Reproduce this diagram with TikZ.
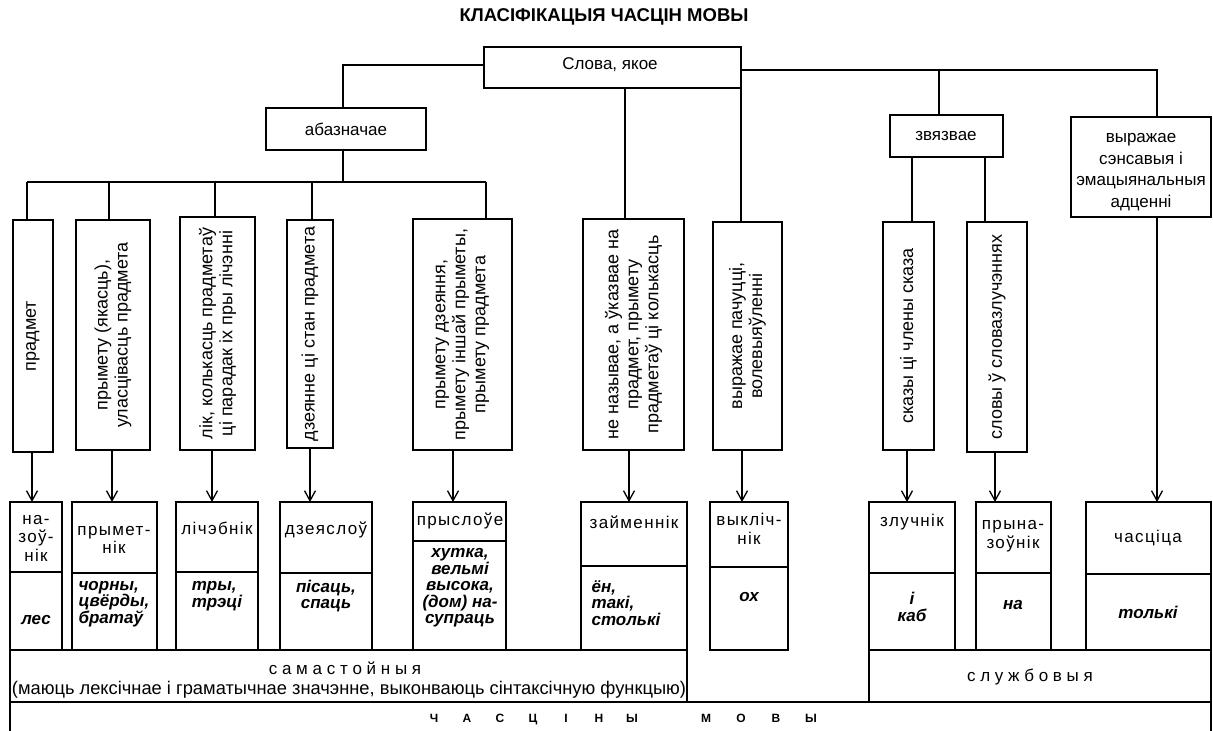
\documentclass[tikz,border=0pt]{standalone}
\usepackage{fontspec}
\setmainfont{Liberation Sans}
\newfontfamily\spacedfont[LetterSpace=8]{Liberation Sans}
\usetikzlibrary{arrows.meta}
\newcommand\boxat[5]{\node[box, anchor=north west, minimum width={#4pt-#2pt}, minimum height={#5pt-#3pt}] (#1) at (#2,#3) {};}
\newcommand\lboxat[5]{\node[lbox, anchor=north west, minimum width={#4pt-#2pt}, minimum height={#5pt-#3pt}] (#1) at (#2,#3) {};}
\begin{document}
\begin{tikzpicture}[x=1pt,y=-1pt,
  box/.style={draw,line width=2.2pt,inner sep=0pt,outer sep=0pt},
  lbox/.style={draw,line width=1.8pt,inner sep=0pt,outer sep=0pt},
  con/.style={line width=1.9pt},
  arr/.style={line width=1.1pt,-{Straight Barb[length=10pt,width=11pt,line width=1.3pt]}},
  tx/.style={inner sep=0pt,align=center,font=\fontsize{17}{19}\selectfont},
  vt/.style={inner sep=0pt,align=center,rotate=90,font=\fontsize{18}{20}\selectfont},
  nm/.style={inner sep=0pt,align=center,font=\spacedfont\fontsize{17}{18.5}\selectfont},
  ex/.style={inner sep=0pt,align=center,font=\bfseries\itshape\fontsize{17}{16.5}\selectfont}]
\useasboundingbox (0,0) rectangle (1213,731);

% title
\node[inner sep=0pt,font=\bfseries\fontsize{18.5}{20}\selectfont] (title) at (604,17) {КЛАСІФІКАЦЫЯ ЧАСЦІН МОВЫ};

% top boxes
\boxat{slova}{484}{47}{741}{88}
\node[tx] (tslova) at (610,65) {Слова, якое};
\boxat{abz}{266}{108}{426}{150}
\node[tx] (tabz) at (346,129) {абазначае};
\boxat{zvz}{890}{115}{1003}{157}
\node[tx] (tzvz) at (946,136) {звязвае};
\boxat{vyr}{1071}{117}{1211}{217}
\node[tx,font=\fontsize{17}{21.5}\selectfont] (tvyr) at (1141,172) {выражае\\сэнсавыя і\\эмацыянальныя\\адценні};

% vertical boxes
\boxat{v1}{13}{220}{53}{452}
\boxat{v2}{76}{220}{150}{450}
\boxat{v3}{180}{217}{255}{450}
\boxat{v4}{287}{220}{333}{448}
\boxat{v5}{413}{219}{512}{450}
\boxat{v6}{583}{219}{684}{450}
\boxat{v7}{713}{222}{782}{450}
\boxat{v8}{883}{222}{934}{450}
\boxat{v9}{967}{222}{1027}{452}
\node[vt] (tv1) at (v1.center) {прадмет};
\node[vt] (tv2) at (v2.center) {прымету (якасць),\\уласцівасць прадмета};
\node[vt] (tv3) at (v3.center) {лік, колькасць прадметаў\\ці парадак іх пры лічэнні};
\node[vt] (tv4) at (v4.center) {дзеянне ці стан прадмета};
\node[vt] (tv5) at (v5.center) {прымету дзеяння,\\прымету іншай прыметы,\\прымету прадмета};
\node[vt] (tv6) at (v6.center) {не называе, а ўказвае на\\прадмет, прымету\\прадметаў ці колькасць};
\node[vt] (tv7) at (v7.center) {выражае пачуцці,\\волевыяўленні};
\node[vt] (tv8) at (v8.center) {сказы ці члены сказа};
\node[vt] (tv9) at (v9.center) {словы ў словазлучэннях};

% connectors top
\coordinate (jl) at (343,65);
\draw[con] (slova.west |- jl) -- (jl) -- (abz.north -| jl);
\coordinate (busL) at (27,182);
\coordinate (busR) at (486,182);
\draw[con] (abz.south -| jl) -- (jl |- busL);
\draw[con] (busL) -- (busR);
\coordinate (d2) at (109,182);
\coordinate (d3) at (215,182);
\coordinate (d4) at (312,182);
\draw[con] (busL) -- (busL |- v1.north);
\draw[con] (d2) -- (d2 |- v2.north);
\draw[con] (d3) -- (d3 |- v3.north);
\draw[con] (d4) -- (d4 |- v4.north);
\draw[con] (busR) -- (busR |- v5.north);
\coordinate (rb) at (1157,70);
\coordinate (rz) at (939,70);
\draw[con] (slova.east |- rb) -- (rb) -- (rb |- vyr.north);
\draw[con] (rz) -- (rz |- zvz.north);
\coordinate (s1) at (625,88);
\coordinate (s2) at (741,88);
\draw[con] (s1) -- (s1 |- v6.north);
\draw[con] (s2) -- (s2 |- v7.north);
\coordinate (z1) at (912,157);
\coordinate (z2) at (985,157);
\draw[con] (z1) -- (z1 |- v8.north);
\draw[con] (z2) -- (z2 |- v9.north);

% lower boxes
\lboxat{L1a}{10}{502}{62}{572} \lboxat{L1b}{10}{572}{62}{650}
\lboxat{L2a}{72}{502}{157}{573} \lboxat{L2b}{72}{573}{157}{650}
\lboxat{L3a}{176}{502}{258}{572} \lboxat{L3b}{176}{572}{258}{650}
\lboxat{L4a}{280}{502}{372}{573} \lboxat{L4b}{280}{573}{372}{650}
\lboxat{L5a}{413}{502}{506}{541} \lboxat{L5b}{413}{541}{506}{650}
\lboxat{L6a}{581}{502}{687}{566} \lboxat{L6b}{581}{566}{687}{650}
\lboxat{L7a}{710}{502}{788}{567} \lboxat{L7b}{710}{567}{788}{650}
\lboxat{L8a}{869}{502}{955}{573} \lboxat{L8b}{869}{573}{955}{650}
\lboxat{L9a}{976}{502}{1051}{573} \lboxat{L9b}{976}{573}{1051}{650}
\lboxat{L10a}{1086}{502}{1211}{574} \lboxat{L10b}{1086}{574}{1211}{650}

\node[nm] (n1) at (36,538) {на-\\зоў-\\нік};
\node[nm] (n2) at (114,540) {прымет-\\нік};
\node[nm] (n3) at (217,528) {лічэбнік};
\node[nm] (n4) at (326,530) {дзеяслоў};
\node[nm] (n5) at (460,521) {прыслоўе};
\node[nm] (n6) at (634,522) {займеннік};
\node[nm] (n7) at (749,529) {выкліч-\\нік};
\node[nm] (n8) at (912,522) {злучнік};
\node[nm] (n9) at (1013,536) {прына-\\зоўнік};
\node[nm] (n10) at (1148,538) {часціца};

\node[ex] (e1) at (36,620) {лес};
\node[ex,align=left] (e2) at (114,604) {чорны,\\цвёрды,\\братаў};
\node[ex,align=left] (e3) at (217,596) {тры,\\трэці};
\node[ex] (e4) at (326,596) {пісаць,\\спаць};
\node[ex] (e5) at (460,588) {хутка,\\вельмі\\высока,\\(дом) на-\\супраць};
\node[ex,align=left] (e6) at (626,603) {ён,\\такі,\\столькі};
\node[ex] (e7) at (749,597) {ох};
\node[ex] (e8) at (912,607) {і\\каб};
\node[ex] (e9) at (1013,605) {на};
\node[ex] (e10) at (1148,612) {толькі};

% arrows
\coordinate (a1) at (32,0);
\coordinate (a2) at (112,0);
\coordinate (a3) at (212,0);
\coordinate (a4) at (310,0);
\coordinate (a5) at (453,0);
\coordinate (a6) at (629,0);
\coordinate (a7) at (742,0);
\coordinate (a8) at (907,0);
\coordinate (a9) at (995,0);
\coordinate (a10) at (1157,0);
\draw[arr] (v1.south -| a1) -- (L1a.north -| a1);
\draw[arr] (v2.south -| a2) -- (L2a.north -| a2);
\draw[arr] (v3.south -| a3) -- (L3a.north -| a3);
\draw[arr] (v4.south -| a4) -- (L4a.north -| a4);
\draw[arr] (v5.south -| a5) -- (L5a.north -| a5);
\draw[arr] (v6.south -| a6) -- (L6a.north -| a6);
\draw[arr] (v7.south -| a7) -- (L7a.north -| a7);
\draw[arr] (v8.south -| a8) -- (L8a.north -| a8);
\draw[arr] (v9.south -| a9) -- (L9a.north -| a9);
\draw[arr] (vyr.south -| a10) -- (L10a.north -| a10);

% bands
\lboxat{sam}{10}{650}{687}{702}
\lboxat{slu}{869}{650}{1211}{702}
\lboxat{chm}{10}{702}{1211}{745}
\node[tx] (tsam1) at (345,668) {с а м а с т о й н ы я};
\node[tx,font=\fontsize{18.3}{19}\selectfont] (tsam2) at (349,690) {(маюць лексічнае і граматычнае значэнне, выконваюць сінтаксічную функцыю)};
\node[tx] (tslu) at (1030,677) {с л у ж б о в ы я};
\node[inner sep=0pt,font=\bfseries\fontsize{12}{14}\selectfont] (tchm) at (623,719) {\makebox[33pt]{Ч}\makebox[33pt]{А}\makebox[33pt]{С}\makebox[33pt]{Ц}\makebox[33pt]{І}\makebox[33pt]{Н}\makebox[33pt]{Ы}\hspace{40pt}\makebox[35pt]{М}\makebox[35pt]{О}\makebox[35pt]{В}\makebox[35pt]{Ы}};
\end{tikzpicture}
\end{document}
